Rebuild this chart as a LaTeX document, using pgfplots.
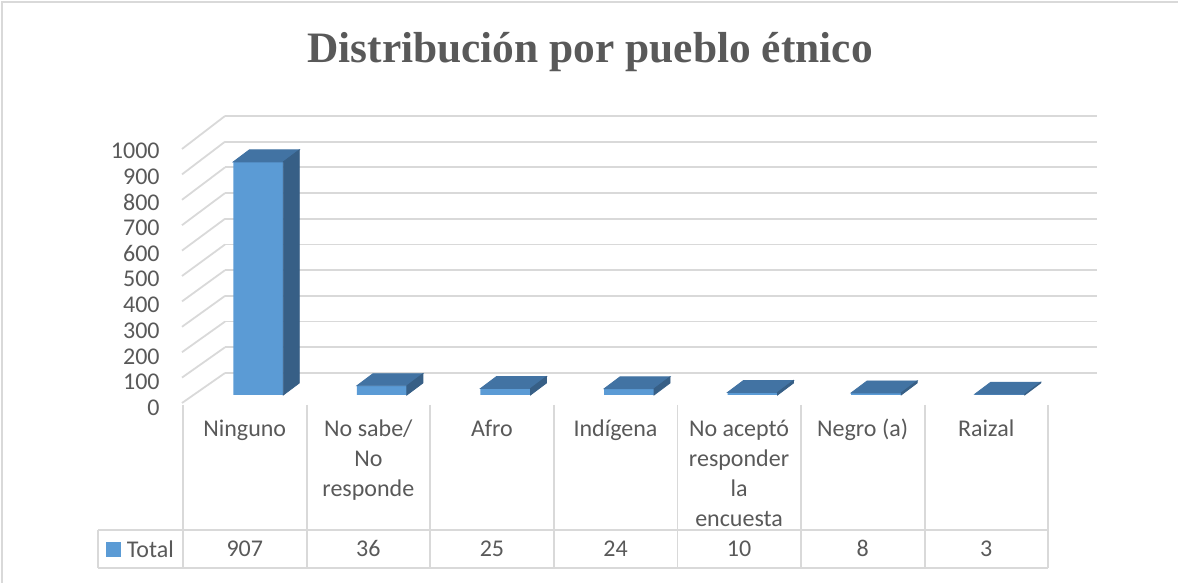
\documentclass[border=0pt]{standalone}
\usepackage{fontspec}
\setmainfont{Carlito}
\newfontfamily\titlefont{Liberation Serif}
\usepackage{pgfplots}
\usepackage{pgfplotstable}
\pgfplotsset{compat=1.18}

\definecolor{textgray}{HTML}{595959}
\definecolor{gridgray}{HTML}{D9D9D9}
\definecolor{barfront}{HTML}{5B9BD5}
\definecolor{bartop}{HTML}{4273A3}
\definecolor{barside}{HTML}{375F86}

% total por pueblo etnico
\pgfplotstableread{
idx total
0 907
1 36
2 25
3 24
4 10
5 8
6 3
}\datos

% cara superior y lateral de cada barra (origen = arista frontal superior)
\pgfdeclareplotmark{cara3d}{%
  \pgfmathsetlengthmacro{\hh}{\barval*0.1285pt}%
  \fill[bartop] (-12.5pt,0pt) -- (12.5pt,0pt) -- (20.5pt,6pt) -- (-4.5pt,6pt) -- cycle;
  \fill[barside] (12.5pt,0pt) -- (20.5pt,6pt) -- (20.5pt,6pt-\hh) -- (12.5pt,-\hh) -- cycle;
}

\begin{document}
\begin{tikzpicture}
\path[use as bounding box] (0,0) rectangle (589pt,291.5pt);
\clip (0,0) rectangle (589pt,291.5pt);

% pared del fondo con la rejilla y las etiquetas del eje y
\begin{axis}[
  at={(112.5pt,105pt)}, anchor=south west,
  x=436pt, y=0.1285pt,
  xmin=0, xmax=1, ymin=0, ymax=1000,
  xtick=\empty, ytick={0,100,...,1000},
  ymajorgrids, grid style={gridgray, line width=0.9pt},
  axis line style={draw=none}, major tick length=0pt,
  /pgf/number format/assume math mode=true,
  /pgf/number format/1000 sep={},
  yticklabel style={font=\fontsize{12}{15}\selectfont, text=textgray,
    anchor=east, inner sep=0pt, xshift=-32.5pt, yshift=-17.4pt},
  clip=false]
\pgfplotsinvokeforeach{0,100,...,1000}{
  \draw[gridgray, line width=0.9pt] (axis cs:0,#1) -- ++(-21.5pt,{-(15+0.0015*#1)*1pt});
}
\end{axis}

% barras
\begin{axis}[
  at={(98.25pt,94pt)}, anchor=south west,
  x=61.786pt, y=0.1285pt,
  xmin=-0.5, xmax=6.5, ymin=0, ymax=1000,
  axis line style={draw=none}, major tick length=0pt,
  ytick=\empty, xtick={0,...,6},
  xticklabels={{\strut Ninguno},{\strut No sabe/\\No\\responde},{\strut Afro},
    {\strut Indígena},{\strut No aceptó\\responder\\la\\encuesta},{\strut Negro (a)},{\strut Raizal}},
  xticklabel style={font=\fontsize{12}{15}\selectfont, text=textgray, align=center,
    anchor=north, inner sep=0pt, yshift=-10pt, xshift=-6.75pt},
  /pgf/number format/assume math mode=true,
  clip=false,
  legend image code/.code={\fill[barfront] (0pt,-3pt) rectangle (7.5pt,4.5pt);},
  legend style={at={(-0.1045,-0.6455)}, anchor=south west, draw=none, fill=none,
    inner sep=0pt, column sep=2.7pt,
    nodes={inner sep=0pt, text=textgray, font=\fontsize{12}{15}\selectfont}},
  ]
\addplot[ybar, bar width=25pt, bar shift=0pt, fill=barfront, draw=none]
  table[x=idx, y=total] {\datos};
\addplot[scatter, only marks, mark=cara3d, forget plot,
  visualization depends on={rawy \as \barval},
  scatter/@pre marker code/.code={}, scatter/@post marker code/.code={}]
  table[x=idx, y=total] {\datos};
\addplot[draw=none, mark=none, forget plot, nodes near coords, point meta=explicit,
  nodes near coords style={font=\fontsize{12}{15}\selectfont, text=textgray,
    anchor=base, inner sep=0pt, yshift=-80.8pt, xshift=-6.75pt}]
  table[x=idx, y expr=0, meta=total] {\datos};
\legend{Total}
\end{axis}

% tabla de datos y marco (coordenadas en pixeles)
\begin{scope}[shift={(0pt,291.5pt)}, x=0.5pt, y=-0.5pt]
  \draw[gridgray, line width=0.9pt] (2,2) rectangle (1200,600);
  \foreach \k in {0,...,7} {
    \draw[gridgray, line width=0.9pt] ({183+123.6*\k},405) -- ({183+123.6*\k},568);
  }
  \draw[gridgray, line width=0.9pt] (98,530) -- (1048.2,530);
  \draw[gridgray, line width=0.9pt] (98,568) -- (1048.2,568);
  \draw[gridgray, line width=0.9pt] (98,530) -- (98,568);
  \node[anchor=base, text=textgray, font=\titlefont\bfseries\fontsize{21.7}{26}\selectfont]
    at (590,62.7) {Distribución por pueblo étnico};
\end{scope}
\end{tikzpicture}
\end{document}
